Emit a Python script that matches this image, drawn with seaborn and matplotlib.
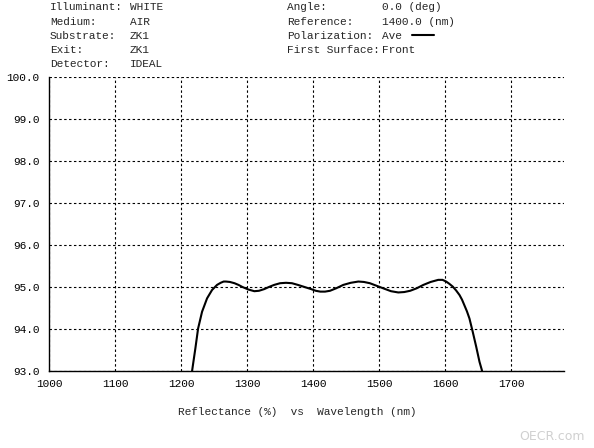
import matplotlib
matplotlib.use("Agg")
import matplotlib.pyplot as plt
from matplotlib.lines import Line2D
import seaborn as sns
import pandas as pd

# values
wavelength = [1216.7, 1219, 1221.7, 1225.8, 1231.8, 1239.4, 1247, 1254.5, 1260,
              1264.5, 1268, 1274, 1281, 1287, 1293, 1302, 1311, 1318, 1326,
              1333, 1341, 1350, 1359, 1368, 1377, 1387, 1397, 1404, 1411,
              1418, 1425.6, 1435, 1445.7, 1457, 1468.5, 1477, 1486, 1496,
              1506, 1518, 1529, 1538, 1547, 1557, 1567, 1578, 1589.5, 1596,
              1601.5, 1606, 1611.5, 1616.5, 1621.7, 1625.5, 1629, 1633, 1636.8,
              1641.8, 1647, 1652, 1656]
reflectance = [93.0, 93.25, 93.54, 94.01, 94.41, 94.73, 94.93, 95.05, 95.1,
               95.13, 95.13, 95.12, 95.09, 95.05, 95.0, 94.94, 94.9, 94.91, 94.95,
               95.0, 95.05, 95.09, 95.1, 95.09, 95.05, 95.0, 94.95, 94.91, 94.89,
               94.89, 94.91, 94.97, 95.05, 95.1, 95.13, 95.12, 95.09, 95.03,
               94.97, 94.9, 94.87, 94.88, 94.91, 94.97, 95.05, 95.12, 95.17, 95.17,
               95.13, 95.08, 95.01, 94.92, 94.81, 94.7, 94.57, 94.42, 94.25,
               93.93, 93.58, 93.22, 93.0]

x_ticks = [1000, 1100, 1200, 1300, 1400, 1500, 1600, 1700]
y_ticks = [93.0, 94.0, 95.0, 96.0, 97.0, 98.0, 99.0, 100.0]

left_info = [("Illuminant:", "WHITE"), ("Medium:", "AIR"), ("Substrate:", "ZK1"),
             ("Exit:", "ZK1"), ("Detector:", "IDEAL")]
right_info = [("Angle:", "0.0 (deg)"), ("Reference:", "1400.0 (nm)"),
              ("Polarization:", "Ave"), ("First Surface:", "Front")]

df = pd.DataFrame({"wl": wavelength, "R": reflectance})

sns.set_style("white")
plt.rcParams["font.family"] = ["Liberation Mono", "DejaVu Sans Mono"]
plt.rcParams["font.size"] = 8

fig = plt.figure(figsize=(5.94, 4.48), dpi=100)
ax = fig.add_axes([49 / 594, 1 - 371 / 448, (564 - 49) / 594, (371 - 77) / 448])

sns.lineplot(data=df, x="wl", y="R", color="black", linewidth=1.5,
             sort=False, estimator=None, ax=ax)

ax.set_xlim(1000, 1780)
ax.set_ylim(93, 100)
ax.set_xticks(x_ticks)
ax.set_xticklabels([str(t) for t in x_ticks])
ax.set_yticks(y_ticks)
ax.set_yticklabels(["%.1f" % t for t in y_ticks])
ax.tick_params(axis="both", colors="black", labelsize=8, direction="out",
               length=4, width=0.8, pad=3)
ax.tick_params(axis="x", length=0, pad=6)
ax.grid(True, color="black", linestyle=(0, (2.2, 2.2)), linewidth=0.8)
ax.set_xlabel("")
ax.set_ylabel("")
for side in ["top", "right"]:
    ax.spines[side].set_visible(False)
for side in ["left", "bottom"]:
    ax.spines[side].set_color("black")
    ax.spines[side].set_linewidth(1.0)

# header block
rows_y = [7, 22, 36, 50, 64]
for (k, v), y in zip(left_info, rows_y):
    fig.text(50 / 594, 1 - y / 448, k, ha="left", va="center", fontsize=8)
    fig.text(130 / 594, 1 - y / 448, v, ha="left", va="center", fontsize=8)
for (k, v), y in zip(right_info, rows_y):
    fig.text(287 / 594, 1 - y / 448, k, ha="left", va="center", fontsize=8)
    fig.text(382 / 594, 1 - y / 448, v, ha="left", va="center", fontsize=8)
fig.add_artist(Line2D([412 / 594, 434 / 594], [1 - 35 / 448, 1 - 35 / 448],
                      transform=fig.transFigure, color="black", linewidth=1.5))

fig.text(0.5, 1 - 412 / 448, "Reflectance (%)  vs  Wavelength (nm)",
         ha="center", va="center", fontsize=8)
fig.text(585 / 594, 1 - 436 / 448, "OECR.com", ha="right", va="center",
         fontsize=9, color="#d0d0d0", family="DejaVu Sans")

fig.savefig("out.png", dpi=100)
